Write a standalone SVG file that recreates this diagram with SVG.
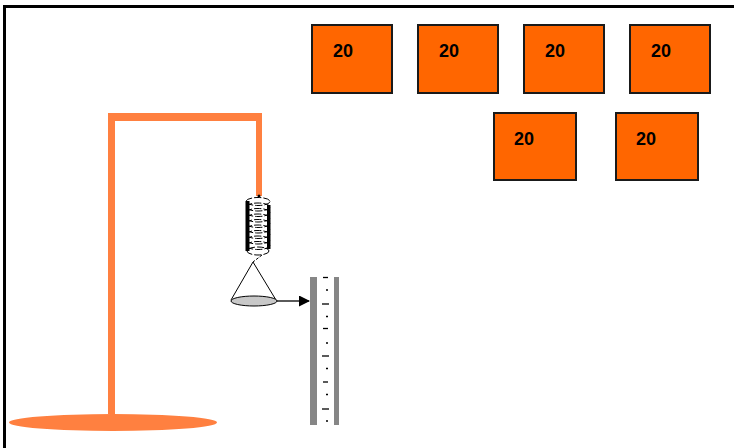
<svg xmlns="http://www.w3.org/2000/svg" width="734" height="448" viewBox="0 0 734 448">
  <style>
    .box { fill: #FF6600; stroke: #1a1a1a; stroke-width: 2; }
    .lbl { font-family: "Liberation Sans", Arial, sans-serif; font-weight: bold; font-size: 18px; fill: #000; }
    .stand { fill: #FF8040; }
    .coil { fill: none; stroke: #000; stroke-width: 1; stroke-dasharray: 7 2; }
    .bar { fill: #868686; }
    .tick { stroke: #000; stroke-width: 1.3; }
  </style>
  <defs>
    <marker id="arrowhead" markerWidth="11" markerHeight="11" refX="10" refY="5.5" orient="auto" markerUnits="userSpaceOnUse">
      <path d="M0,0 L11,5.5 L0,11 Z" fill="#000"/>
    </marker>
  </defs>

  <rect width="734" height="448" fill="#fff"/>
  <!-- frame (top and left edges) -->
  <path d="M4.5,448 V6.5 H734" fill="none" stroke="#000" stroke-width="3"/>

  <!-- weights -->
  <g id="weight-1"><rect class="box" x="312" y="25" width="80" height="68"/><text class="lbl" x="333" y="57">20</text></g>
  <g id="weight-2"><rect class="box" x="418" y="25" width="80" height="68"/><text class="lbl" x="439" y="57">20</text></g>
  <g id="weight-3"><rect class="box" x="524" y="25" width="80" height="68"/><text class="lbl" x="545" y="57">20</text></g>
  <g id="weight-4"><rect class="box" x="630" y="25" width="80" height="68"/><text class="lbl" x="651" y="57">20</text></g>
  <g id="weight-5"><rect class="box" x="494" y="113" width="82" height="67"/><text class="lbl" x="514" y="145">20</text></g>
  <g id="weight-6"><rect class="box" x="616" y="113" width="82" height="67"/><text class="lbl" x="636" y="145">20</text></g>

  <!-- stand -->
  <g id="stand">
    <ellipse class="stand" cx="113" cy="422.5" rx="104" ry="8.5"/>
    <rect class="stand" x="108" y="113" width="7" height="301"/>
    <rect class="stand" x="108" y="113" width="154" height="8"/>
    <rect class="stand" x="256" y="113" width="6" height="83"/>
  </g>

  <!-- spring with pan -->
  <g id="spring">
    <circle cx="259" cy="196" r="1.5" fill="#000"/>
    <rect x="245.5" y="201" width="4" height="50" fill="#000"/>
    <rect x="267" y="205" width="3.5" height="44" fill="#000"/>
    <ellipse class="coil" cx="258" cy="201.5" rx="12" ry="4"/>
    <ellipse class="coil" cx="258" cy="207" rx="12" ry="4"/>
    <ellipse class="coil" cx="258" cy="212.5" rx="12" ry="4"/>
    <ellipse class="coil" cx="258" cy="218" rx="12" ry="4"/>
    <ellipse class="coil" cx="258" cy="223.5" rx="12" ry="4"/>
    <ellipse class="coil" cx="258" cy="229" rx="12" ry="4"/>
    <ellipse class="coil" cx="258" cy="234.5" rx="12" ry="4"/>
    <ellipse class="coil" cx="258" cy="240" rx="12" ry="4"/>
    <ellipse class="coil" cx="258" cy="245.5" rx="12" ry="4"/>
    <ellipse class="coil" cx="258" cy="251" rx="11" ry="4"/>
    <path d="M262,255 L253,262" fill="none" stroke="#000" stroke-width="1" stroke-dasharray="3 1.5"/>
    <path d="M231,300 L253,262 L276,300" fill="none" stroke="#000" stroke-width="1"/>
    <ellipse cx="254" cy="301" rx="23" ry="5" fill="#c8c8c8" stroke="#000" stroke-width="1"/>
  </g>

  <!-- scale ruler -->
  <g id="ruler">
    <rect class="bar" x="310" y="277" width="7" height="148"/>
    <rect class="bar" x="334" y="277" width="5" height="148"/>
    <g class="tick">
      <line x1="323" y1="277.5" x2="328" y2="277.5"/>
      <line x1="326" y1="290" x2="328" y2="290"/>
      <line x1="322" y1="304" x2="329" y2="304"/>
      <line x1="326" y1="316.5" x2="328" y2="316.5"/>
      <line x1="323" y1="328.5" x2="328" y2="328.5"/>
      <line x1="326" y1="343" x2="328" y2="343"/>
      <line x1="322" y1="356" x2="329" y2="356"/>
      <line x1="326" y1="368.5" x2="328" y2="368.5"/>
      <line x1="323" y1="382" x2="328" y2="382"/>
      <line x1="326" y1="394.5" x2="328" y2="394.5"/>
      <line x1="322" y1="409" x2="329" y2="409"/>
      <line x1="326" y1="421" x2="328" y2="421"/>
    </g>
  </g>

  <!-- pointer -->
  <g id="connectors">
    <line x1="277" y1="301" x2="309" y2="301" stroke="#000" stroke-width="1.3" marker-end="url(#arrowhead)"/>
  </g>
</svg>
